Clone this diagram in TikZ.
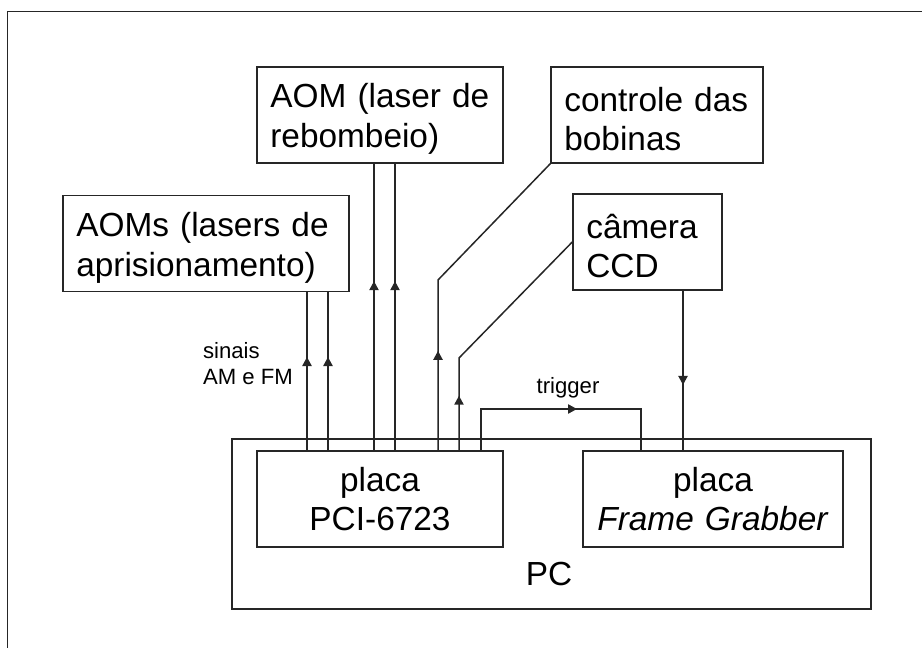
\documentclass[tikz,border=0pt]{standalone}
\usepackage{fontspec}
\setmainfont{Liberation Sans}
\usetikzlibrary{arrows.meta,decorations.markings}

\tikzset{
  linha/.style={draw=black!85, line width=0.45mm},
  texto/.style={font=\fontsize{28.5}{34}\selectfont},
  bloco/.style={linha, rectangle, texto, align=left, inner xsep=4mm, minimum height=28.8mm,
    execute at begin node={\rule{0pt}{27.5pt}}},
  placa/.style={linha, rectangle, texto, align=center, inner xsep=4mm, minimum height=28.8mm},
  rotulo/.style={font=\fontsize{18.9}{22.2}\selectfont, inner sep=0pt},
  seta/.style={linha, postaction={decorate},
    decoration={markings, mark=at position #1 with {\arrow{Triangle[length=2.7mm,width=2.8mm]}}}}
}

\begin{document}
\begin{tikzpicture}[x=0.3mm,y=-0.3mm]
\useasboundingbox (0,0) rectangle (922,648);
% moldura
\draw[draw=black!85, line width=0.3mm] (7,648) -- (7,12) -- (922,12);

% blocos
\node[bloco, text width=77.8mm] (aoms) at (206,243.5) {AOMs (lasers de\\aprisionamento)};
\node[bloco, text width=65.8mm] (aomrep) at (380,115) {AOM (laser de\\rebombeio)};
\node[bloco, text width=55.6mm] (bobinas) at (657,115) {controle das\\bobinas};
\node[bloco, text width=36.7mm] (ccd) at (647.5,242) {câmera\\CCD};
\node[linha, minimum width=191.7mm, minimum height=51mm] (pc) at (551.5,524) {};
\node[placa, text width=65.8mm] (pci) at (380,499) {placa\\PCI-6723};
\node[placa, text width=70mm] (fg) at (713,499) {placa\\\textit{Frame Grabber}};
\node[texto] (pctxt) at (549,574) {PC};

% sinais
\foreach \x in {307,328}
  \draw[seta=0.59] (\x,0 |- pci.north) -- (\x,0 |- aoms.south);
\foreach \x in {374,395}
  \draw[seta=0.59] (\x,0 |- pci.north) -- (\x,0 |- aomrep.south);
\draw[seta=0.30] (438,0 |- pci.north) -- (438,280) -- (bobinas.south west);
\draw[seta=0.215] (459,0 |- pci.north) -- (459,358) -- (ccd.west);
\draw[seta=0.566] (481,0 |- pci.north) -- (481,409) -- (641,409) -- (641,0 |- fg.north);
\draw[seta=0.59] (683,0 |- ccd.south) -- (683,0 |- fg.north);

\node[rotulo, align=left] (sinais) at (248,364) {sinais\\AM e FM};
\node[rotulo] (trigger) at (568,388) {trigger};
\end{tikzpicture}
\end{document}
